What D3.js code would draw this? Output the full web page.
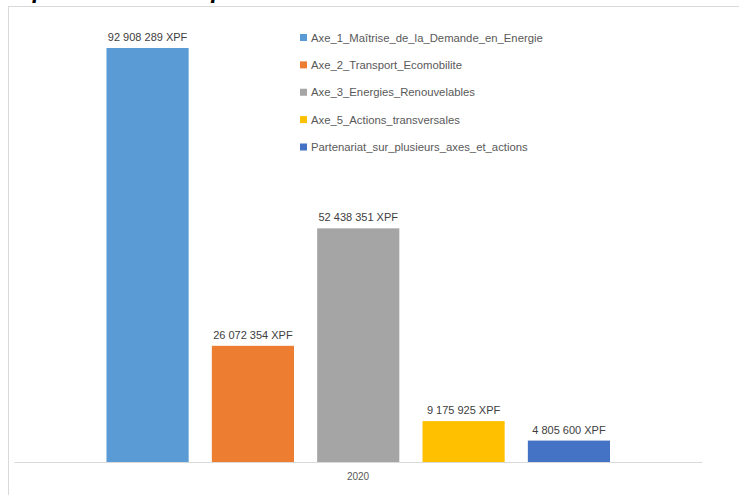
<!DOCTYPE html>
<html>
<head>
<meta charset="utf-8">
<script src="https://cdn.jsdelivr.net/npm/d3@7/dist/d3.min.js"></script>
<style>
  html, body { margin: 0; padding: 0; background: #fff; }
  svg { display: block; }
</style>
</head>
<body>
<svg id="chart" width="739" height="495"></svg>
<script>
const title = "Répartition des dépenses de la TEN en 2020";
const category = "2020";
const seriesNames = [
  "Axe_1_Maîtrise_de_la_Demande_en_Energie",
  "Axe_2_Transport_Ecomobilite",
  "Axe_3_Energies_Renouvelables",
  "Axe_5_Actions_transversales",
  "Partenariat_sur_plusieurs_axes_et_actions"
];
const seriesValues = [92908289, 26072354, 52438351, 9175925, 4805600];
const seriesLabels = ["92 908 289 XPF", "26 072 354 XPF", "52 438 351 XPF", "9 175 925 XPF", "4 805 600 XPF"];
const seriesColors = ["#5b9bd5", "#ed7d31", "#a5a5a5", "#ffc000", "#4472c4"];

const svg = d3.select("#chart");
const font = "'Liberation Sans', Arial, sans-serif";

// chart area border
svg.append("rect")
  .attr("x", 8.5).attr("y", 6.5)
  .attr("width", 800).attr("height", 600)
  .attr("fill", "none").attr("stroke", "#d9d9d9").attr("stroke-width", 1);

// title (cropped at the top edge in the reference)
svg.append("text")
  .attr("x", 2).attr("y", -2)
  .attr("font-family", font)
  .attr("font-size", 24).attr("font-weight", "bold").attr("font-style", "italic")
  .attr("fill", "#000")
  .text(title);

const baseY = 462;
const y = d3.scaleLinear().domain([0, 100000000]).range([baseY, 16.4]);
const x0 = d3.scaleBand().domain([category]).range([14, 702]).paddingInner(0).paddingOuter(0);
const x1 = d3.scaleBand().domain(d3.range(seriesValues.length))
  .range([106.5, 610]).paddingInner(0.22).paddingOuter(0);

const g = svg.append("g");

g.selectAll("rect.bar").data(seriesValues).join("rect")
  .attr("class", "bar")
  .attr("x", (d, i) => x1(i))
  .attr("y", d => y(d))
  .attr("width", x1.bandwidth())
  .attr("height", d => baseY - y(d))
  .attr("fill", (d, i) => seriesColors[i]);

g.selectAll("text.val").data(seriesValues).join("text")
  .attr("class", "val")
  .attr("x", (d, i) => x1(i) + x1.bandwidth() / 2)
  .attr("y", d => y(d) - 7)
  .attr("text-anchor", "middle")
  .attr("font-family", font).attr("font-size", 11)
  .attr("fill", "#404040")
  .text((d, i) => seriesLabels[i]);

// axis
const axis = d3.axisBottom(x0).tickSize(0).tickPadding(11);
const ax = svg.append("g").attr("transform", `translate(0,${baseY})`).call(axis);
ax.select(".domain").attr("stroke", "#d9d9d9").attr("stroke-width", 1.2);
ax.selectAll("text").attr("font-family", font).attr("font-size", 10).attr("fill", "#595959");

// legend
const legend = svg.append("g");
const rowY = d3.scalePoint().domain(d3.range(seriesNames.length)).range([37.5, 147]);
const items = legend.selectAll("g").data(seriesNames).join("g")
  .attr("transform", (d, i) => `translate(300,${rowY(i)})`);
items.append("rect")
  .attr("x", 0).attr("y", -3.5).attr("width", 7).attr("height", 7)
  .attr("fill", (d, i) => seriesColors[i]);
items.append("text")
  .attr("x", 11).attr("y", 4)
  .attr("font-family", font).attr("font-size", 11.3)
  .attr("fill", "#595959")
  .text(d => d);
</script>
</body>
</html>
